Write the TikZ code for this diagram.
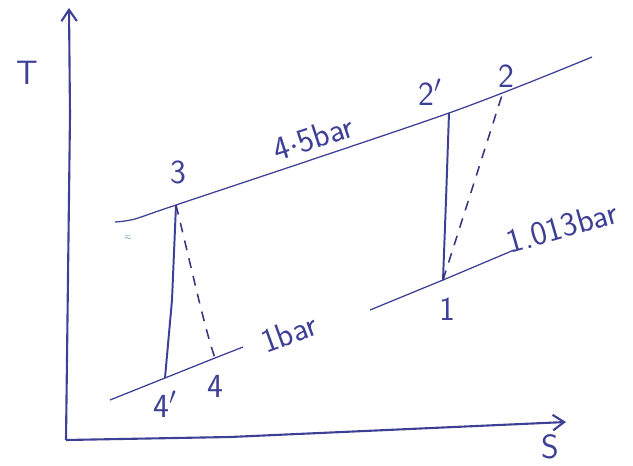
\documentclass[tikz,border=0pt]{standalone}
\usepackage{amsmath,amssymb}
\usetikzlibrary{arrows.meta,positioning}
\definecolor{ink}{RGB}{62,64,150}

\begin{document}
\begin{tikzpicture}[x=0.25mm,y=-0.25mm]
\tikzset{axis/.style={draw=ink,line width=1.5pt,-{Straight Barb[length=8pt,width=11pt]}},
  isobar/.style={draw=ink,line width=0.9pt},
  ideal/.style={draw=ink,line width=1.4pt},
  actual/.style={draw=ink!85!black,line width=1.1pt,dash pattern=on 7pt off 6pt},
  lbl/.style={text=ink,font=\sffamily\fontsize{24}{24}\selectfont,inner sep=1pt}}
\useasboundingbox (0,0) rectangle (633,465);

% axes
\coordinate (O) at (66,440);
\coordinate (Ttip) at (69,8);
\coordinate (Stip) at (566,422);
\draw[axis] (O) -- (70,115) -- (Ttip);
\draw[axis] (O) -- (230,437) -- (Stip);
\node[lbl] (T) at (27,73) {T};
\node[lbl] (S) at (550,447) {S};

% state points
\coordinate (p3) at (176,205);
\coordinate (p2s) at (449,113);
\coordinate (p2) at (503,92);
\coordinate (p4s) at (165,378);
\coordinate (p4) at (215,358);
\coordinate (p1) at (443,280);

% isobars
\draw[isobar] plot[smooth,tension=0.5] coordinates {(115,222) (135,219) (p3) (p2s) (592,57)};
\draw[isobar] (110,400) -- (p4s) -- (p4) -- (243,347);
\draw[isobar] (370,310) -- (p1) -- (514,250);

% compressor 1-2 and turbine 3-4
\draw[ideal] (p1) -- (446,200) -- (p2s);
\draw[actual] (p1) -- (p2);
\draw[ideal] (p3) -- (172,300) -- (p4s);
\draw[actual] (p3) .. controls (192,270) and (205,330) .. (p4);

% labels
\node[lbl] (l3) at (178,172) {3};
\node[lbl] (l2s) at (430,92) {2$'$};
\node[lbl] (l2) at (506,76) {2};
\node[lbl] (l1) at (447,309) {1};
\node[lbl] (l4s) at (165,404) {4$'$};
\node[lbl] (l4) at (215,386) {4};
\node[lbl,rotate=18] (hp) at (313,138) {4$\cdot$5bar};
\node[lbl,rotate=20] (lp) at (289,333) {1bar};
\node[lbl,rotate=16,anchor=west] (ap) at (506,243) {1.013bar};
\node[text=ink!70!cyan,font=\tiny] (mk) at (128,238) {$\eqsim$};
\end{tikzpicture}
\end{document}
